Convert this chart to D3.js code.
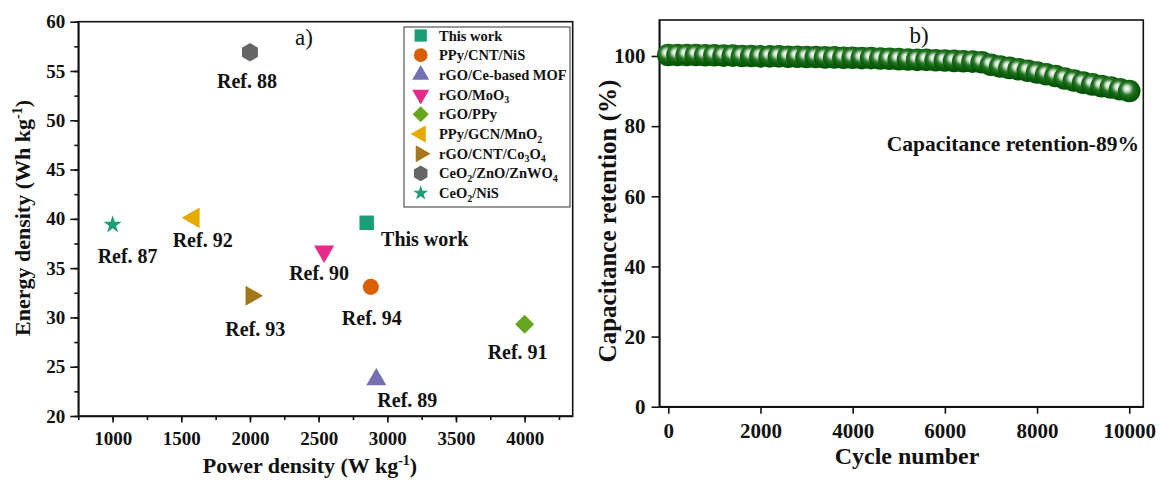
<!DOCTYPE html>
<html>
<head>
<meta charset="utf-8">
<script src="https://d3js.org/d3.v7.min.js"></script>
<style>
  body { margin: 0; background: white; }
  svg text { font-family: "Liberation Serif", "Times New Roman", serif; fill: #111; }
  .axis path, .axis line { stroke: #111; stroke-width: 1.6px; }
  .axis text { font-weight: bold; font-size: 19px; }
  .title { font-weight: bold; font-size: 22px; }
  .ref { font-weight: bold; font-size: 20px; }
  .leg { font-weight: bold; font-size: 14.5px; }
</style>
</head>
<body>
<script>
// ---- panel a data
var materials = ["This work", "PPy/CNT/NiS", "rGO/Ce-based MOF", "rGO/MoO3", "rGO/PPy",
                 "PPy/GCN/MnO2", "rGO/CNT/Co3O4", "CeO2/ZnO/ZnWO4", "CeO2/NiS"]
var refNames = ["This work", "Ref. 94", "Ref. 89", "Ref. 90", "Ref. 91", "Ref. 92", "Ref. 93", "Ref. 88", "Ref. 87"]
var powerDensity = [2850, 2880, 2920, 2540, 4000, 1590, 2010, 2000, 1000]
var energyDensity = [39.6, 33.1, 23.7, 36.7, 29.3, 40.1, 32.2, 56.9, 39.4]
var xTicksA = [1000, 1500, 2000, 2500, 3000, 3500, 4000]
var yTicksA = [20, 25, 30, 35, 40, 45, 50, 55, 60]

// ---- panel b data
var cycles = [0, 200, 400, 600, 800, 1000, 1200, 1400, 1600, 1800,
              2000, 2200, 2400, 2600, 2800, 3000, 3200, 3400, 3600, 3800,
              4000, 4200, 4400, 4600, 4800, 5000, 5200, 5400, 5600, 5800,
              6000, 6200, 6400, 6600, 6800, 7000, 7200, 7400, 7600, 7800,
              8000, 8200, 8400, 8600, 8800, 9000, 9200, 9400, 9600, 9800, 10000]
var retention = [100.3, 100.3, 100.3, 100.3, 100.2, 100.2, 100.1, 100.1, 100.0, 100.0,
                 99.9, 99.9, 99.9, 99.8, 99.8, 99.7, 99.7, 99.6, 99.6, 99.5,
                 99.5, 99.4, 99.4, 99.3, 99.2, 99.1, 99.0, 98.9, 98.9, 98.8,
                 98.7, 98.6, 98.5, 98.4, 98.2, 97.5, 97.0, 96.6, 96.2, 95.8,
                 95.3, 94.8, 94.3, 93.6, 93.0, 92.4, 91.9, 91.4, 91.0, 90.5, 90.0]
var xTicksB = [0, 2000, 4000, 6000, 8000, 10000]
var yTicksB = [0, 20, 40, 60, 80, 100]

var width = 1161, height = 482

var svg = d3.select("body").append("svg")
  .attr("width", width)
  .attr("height", height)

var defs = svg.append("defs")

// marker shapes (size ~ area in px^2, rot in degrees)
function hexagon(r){
  var pts = d3.range(6).map(function(i){
    var a = Math.PI / 3 * i - Math.PI / 2
    return [r * Math.cos(a), r * Math.sin(a)]
  })
  return "M" + pts.join("L") + "Z"
}
var shapes = [
  {type: d3.symbolSquare, size: 210, rot: 0},
  {type: d3.symbolCircle, size: 205, rot: 0},
  {type: d3.symbolTriangle, size: 175, rot: 0},
  {type: d3.symbolTriangle, size: 175, rot: 180},
  {type: d3.symbolSquare, size: 180, rot: 45},
  {type: d3.symbolTriangle, size: 185, rot: -90},
  {type: d3.symbolTriangle, size: 175, rot: 90},
  {type: "hex", size: 9.2, rot: 0},
  {type: d3.symbolStar, size: 100, rot: 0}
]
function shapePath(i, k){
  var s = shapes[i]
  if(s.type === "hex") return hexagon(s.size * Math.sqrt(k))
  return d3.symbol().type(s.type).size(s.size * k)()
}
var colors = d3.schemeDark2.concat([d3.schemeDark2[0]])

// label offsets from the marker, px
var labelOffset = [[58, 16], [1, 31], [31, 20], [-5, 22], [-7, 28], [9, 22], [4, 33], [-3, 29], [15, 31]]

// ================= panel a
var xA = d3.scaleLinear().domain([750, 4350]).range([78.3, 572.7])
var yA = d3.scaleLinear().domain([20, 60]).range([416, 21.7])

var gA = svg.append("g")

gA.append("rect")
  .attr("x", xA.range()[0]).attr("y", yA.range()[1])
  .attr("width", xA.range()[1] - xA.range()[0])
  .attr("height", yA.range()[0] - yA.range()[1])
  .attr("fill", "none").attr("stroke", "#111").attr("stroke-width", 1.6)

// minor ticks
gA.append("g").attr("class", "axis")
  .attr("transform", "translate(0," + yA.range()[0] + ")")
  .call(d3.axisBottom(xA).tickValues(d3.range(750, 4350, 250)).tickSize(4).tickFormat(""))
  .call(function(g){ g.select(".domain").remove() })
gA.append("g").attr("class", "axis")
  .attr("transform", "translate(" + xA.range()[0] + ",0)")
  .call(d3.axisLeft(yA).tickValues(d3.range(20, 60.1, 2.5)).tickSize(4).tickFormat(""))
  .call(function(g){ g.select(".domain").remove() })

gA.append("g").attr("class", "axis")
  .attr("transform", "translate(0," + yA.range()[0] + ")")
  .call(d3.axisBottom(xA).tickValues(xTicksA).tickFormat(d3.format("d")).tickSize(6.5).tickPadding(9).tickSizeOuter(0))
gA.append("g").attr("class", "axis")
  .attr("transform", "translate(" + xA.range()[0] + ",0)")
  .call(d3.axisLeft(yA).tickValues(yTicksA).tickSize(8).tickPadding(5).tickSizeOuter(0))

// points
powerDensity.forEach(function(p, i){
  var px = xA(p), py = yA(energyDensity[i])
  gA.append("path")
    .attr("d", shapePath(i, 1))
    .attr("transform", "translate(" + px + "," + py + ") rotate(" + shapes[i].rot + ")")
    .attr("fill", colors[i])
  gA.append("text")
    .attr("class", "ref")
    .attr("x", px + labelOffset[i][0])
    .attr("y", py + labelOffset[i][1])
    .attr("text-anchor", "middle")
    .attr("dominant-baseline", "central")
    .text(refNames[i])
})

gA.append("text")
  .attr("x", 304).attr("y", 45)
  .attr("text-anchor", "middle")
  .style("font-size", "23px")
  .text("a)")

// legend
var leg = gA.append("g")
leg.append("rect")
  .attr("x", 404).attr("y", 27).attr("width", 166).attr("height", 180)
  .attr("fill", "white").attr("stroke", "#555").attr("stroke-width", 1.2)

// split a formula into [text, isSubscript] pieces
function splitName(name){
  if(name === "This work" || name === "rGO/Ce-based MOF") return [[name, false]]
  var parts = [], re = /([A-Za-z\/\- ]+)(\d?)/g, m
  while((m = re.exec(name)) !== null){
    if(m[0] === "") break
    parts.push([m[1], false])
    if(m[2]) parts.push([m[2], true])
  }
  return parts
}

materials.forEach(function(name, i){
  var ly = 35.5 + i * 19.7
  leg.append("path")
    .attr("d", shapePath(i, 0.72))
    .attr("transform", "translate(420.7," + ly + ") rotate(" + shapes[i].rot + ")")
    .attr("fill", colors[i])
  var t = leg.append("text")
    .attr("class", "leg")
    .attr("x", 439).attr("y", ly + 5)
  var sub = false
  splitName(name).forEach(function(p){
    var dy = p[1] ? (sub ? 0 : 3.5) : (sub ? -3.5 : 0)
    var ts = t.append("tspan").attr("dy", dy).text(p[0])
    if(p[1]) ts.style("font-size", "10px")
    sub = p[1]
  })
})

// titles
var tx = gA.append("text").attr("class", "title")
  .attr("x", 310).attr("y", 473).attr("text-anchor", "middle")
tx.append("tspan").text("Power density (W kg")
tx.append("tspan").attr("dy", -8).style("font-size", "14px").text("-1")
tx.append("tspan").attr("dy", 8).text(")")

var ty = gA.append("text").attr("class", "title")
  .attr("transform", "translate(30,218) rotate(-90)").attr("text-anchor", "middle")
ty.append("tspan").text("Energy density (Wh kg")
ty.append("tspan").attr("dy", -8).style("font-size", "14px").text("-1")
ty.append("tspan").attr("dy", 8).text(")")

// ================= panel b
var xB = d3.scaleLinear().domain([-195, 10305]).range([659.3, 1143.3])
var yB = d3.scaleLinear().domain([0, 110.26]).range([406.7, 20])

var gB = svg.append("g")

var grad = defs.append("radialGradient").attr("id", "ball")
  .attr("cx", "45%").attr("cy", "42%").attr("r", "55%")
  .attr("fx", "38%").attr("fy", "38%")
grad.append("stop").attr("offset", "0%").attr("stop-color", "#ffffff")
grad.append("stop").attr("offset", "22%").attr("stop-color", "#cfe3cf")
grad.append("stop").attr("offset", "50%").attr("stop-color", "#2a772a")
grad.append("stop").attr("offset", "78%").attr("stop-color", "#0a5e0a")
grad.append("stop").attr("offset", "100%").attr("stop-color", "#045204")

gB.append("rect")
  .attr("x", xB.range()[0]).attr("y", yB.range()[1])
  .attr("width", xB.range()[1] - xB.range()[0])
  .attr("height", yB.range()[0] - yB.range()[1])
  .attr("fill", "none").attr("stroke", "#111").attr("stroke-width", 1.6)

gB.append("g").attr("class", "axis")
  .attr("transform", "translate(0," + yB.range()[0] + ")")
  .call(d3.axisBottom(xB).tickValues(xTicksB).tickFormat(d3.format("d")).tickSize(7).tickPadding(9).tickSizeOuter(0))
  .selectAll("text").style("font-size", "21px")
gB.append("g").attr("class", "axis")
  .attr("transform", "translate(" + xB.range()[0] + ",0)")
  .call(d3.axisLeft(yB).tickValues(yTicksB).tickSize(7.7).tickPadding(6).tickSizeOuter(0))
  .selectAll("text").style("font-size", "21px")

gB.append("g").selectAll("circle")
  .data(cycles)
  .enter().append("circle")
  .attr("cx", function(d){ return xB(d) })
  .attr("cy", function(d, i){ return yB(retention[i]) })
  .attr("r", 11.3)
  .attr("fill", "url(#ball)")

gB.append("text")
  .attr("x", 919).attr("y", 43)
  .attr("text-anchor", "middle")
  .style("font-size", "23px")
  .text("b)")

gB.append("text")
  .attr("x", 1139).attr("y", 151)
  .attr("text-anchor", "end")
  .style("font-weight", "bold").style("font-size", "21.5px")
  .text("Capacitance retention-89%")

gB.append("text").attr("class", "title")
  .attr("x", 907).attr("y", 464).attr("text-anchor", "middle")
  .style("font-size", "24px")
  .text("Cycle number")

gB.append("text").attr("class", "title")
  .attr("transform", "translate(616,221) rotate(-90)").attr("text-anchor", "middle")
  .style("font-size", "25px")
  .text("Capacitance retention (%)")
</script>
</body>
</html>
